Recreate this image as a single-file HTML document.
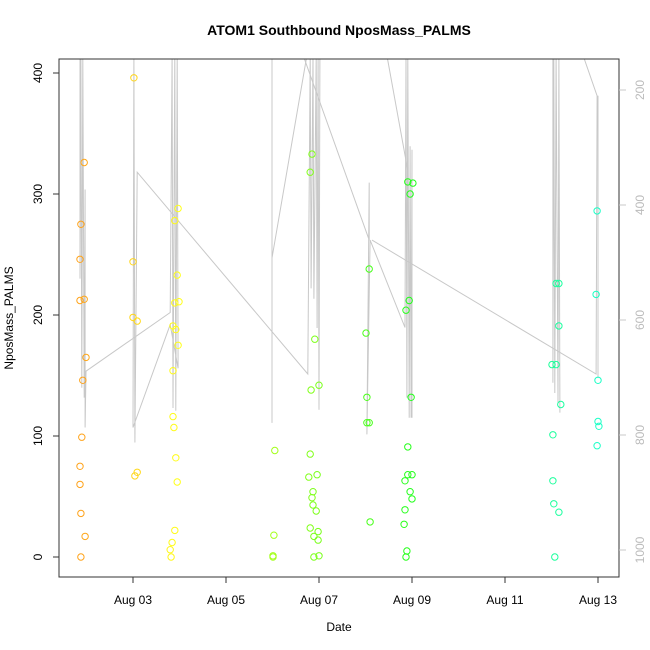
<!DOCTYPE html>
<html><head><meta charset="utf-8"><style>
html,body{margin:0;padding:0;background:#fff}
svg{display:block;font-family:"Liberation Sans",sans-serif}
</style></head><body>
<svg id="chart" width="650" height="650" viewBox="0 0 650 650"></svg>
<script>
// NposMass points: day-of-August and value
const ptDays = [1.95,1.88,1.86,1.86,1.95,1.99,1.92,1.90,1.86,1.86,1.88,1.97,1.88,
 3.02,3.0,3.0,3.09,3.09,3.04,
 3.97,3.90,3.95,3.90,3.99,3.86,3.92,3.97,3.86,3.86,3.88,3.92,3.95,3.90,3.84,3.80,3.82,
 6.05,6.03,6.01,6.01,
 6.85,6.81,6.91,6.83,7.0,6.81,6.78,6.96,6.87,6.85,6.87,6.94,6.81,6.89,6.98,6.98,6.89,7.0,
 8.08,8.01,8.03,8.03,8.08,8.10,
 8.91,9.02,8.96,8.94,8.87,8.98,8.91,8.91,9.0,8.85,8.96,9.0,8.85,8.83,8.89,8.87,
 12.1,12.16,12.16,12.01,12.1,12.2,12.03,12.03,12.05,12.16,12.07,
 12.98,12.96,13.0,13.0,13.02,12.98];
const ptVals = [326,275,246,212,213,165,146,99,75,60,36,17,0,
 396,244,198,195,70,67,
 288,278,233,210,211,191,188,175,154,116,107,82,62,22,12,6,0,
 88,18,1,0,
 333,318,180,138,142,85,66,68,54,49,43,38,24,17,21,14,0,1,
 238,185,132,111,111,29,
 310,309,300,212,204,132,91,68,68,63,54,48,39,27,5,0,
 226,226,191,159,159,126,101,63,44,37,0,
 286,217,146,112,108,92];
// Pressure trace (right axis), several path segments: days and pressures
const presDays = [
 [1.86,1.86,1.88,1.90,1.92,1.95,1.97,1.97,1.99,3.80,3.84,3.86,3.90,3.92,3.95,3.97,3.80,3.0,3.02,3.04,3.09,6.76,6.81,6.83,6.87,6.89,6.94,6.96,6.98,7.0,7.02],
 [5.99,5.99,5.99,6.74],
 [6.66,8.08,8.08,8.03,8.10,8.85,8.87,8.89,8.91,8.94,8.96,8.98,9.0,9.0],
 [8.46,8.91],
 [8.14,12.96,12.98,12.68],
 [12.03,12.03,12.05,12.07,12.10,12.14,12.16,12.18],
 [13.0,13.0]
];
const presVals = [
 [140,528,140,718,140,735,373,787,689,587,140,753,140,758,140,684,608,787,140,813,343,694,140,545,140,563,140,614,140,756,140],
 [140,779,492,140],
 [140,461,361,799,461,613,140,735,140,770,298,770,304,770],
 [140,340],
 [461,694,210,140],
 [140,709,140,727,140,744,140,761],
 [210,701]
];
const yTicks = [0,100,200,300,400];
const pTicks = [200,400,600,800,1000];
const xTickDays = [3,5,7,9,11,13];
const xTickLabels = ["Aug 03","Aug 05","Aug 07","Aug 09","Aug 11","Aug 13"];

const L=59,R=619,T=59,B=577;
const xS = d => 133 + (d-3)*46.5;
const yS = v => 557 - v*1.21;
const pS = p => 90 + (p-200)*0.575;
const NS="http://www.w3.org/2000/svg";
const svg=document.getElementById('chart');
function mk(tag,attrs,parent){const e=document.createElementNS(NS,tag);for(const k in attrs)e.setAttribute(k,attrs[k]);(parent||svg).appendChild(e);return e;}

const defs=mk('defs',{});
const cp=mk('clipPath',{id:'clip'},defs);
mk('rect',{x:L,y:T,width:R-L,height:B-T},cp);

const gPres=mk('g',{'clip-path':'url(#clip)'});


presDays.forEach((ds,i)=>{
  const pts=ds.map((d,j)=>xS(d).toFixed(1)+','+pS(presVals[i][j]).toFixed(1)).join(' ');
  const pl=mk('polyline',{points:pts,fill:'none',stroke:'#c8c8c8','stroke-width':1},gPres);
  
  
});

const gPts=mk('g',{'clip-path':'url(#clip)'});


ptDays.forEach((d,i)=>{
  const h=36+(d-1.9)*11.6;
  const c=mk('circle',{cx:xS(d).toFixed(1),cy:yS(ptVals[i]).toFixed(1),r:3.2,fill:'none',stroke:`hsl(${h.toFixed(0)},100%,55%)`,'stroke-width':1},gPts);
  
  
});

const box=mk('rect',{x:L,y:T,width:R-L,height:B-T,fill:'none',stroke:'#333','stroke-width':1});



yTicks.forEach(v=>{
  const y=yS(v);
  const t=mk('line',{x1:L-6,x2:L,y1:y,y2:y,stroke:'#333'});
  
  
  const tx=mk('text',{x:42,y:y,'font-size':12,'text-anchor':'middle',transform:`rotate(-90 42 ${y})`,fill:'#000'});
  tx.textContent=v;
  
  
});
pTicks.forEach(p=>{
  const y=pS(p);
  const t=mk('line',{x1:R,x2:R+7,y1:y,y2:y,stroke:'#c8c8c8'});
  
  
  const tx=mk('text',{x:644,y:y,'font-size':12,'text-anchor':'middle',transform:`rotate(-90 644 ${y})`,fill:'#bbb'});
  tx.textContent=p;
  
  
});
xTickDays.forEach((d,i)=>{
  const x=xS(d);
  const t=mk('line',{x1:x,x2:x,y1:B,y2:B+6,stroke:'#333'});
  
  
  const tx=mk('text',{x:x,y:604,'font-size':12,'text-anchor':'middle',fill:'#000'});
  tx.textContent=xTickLabels[i];
  
  
});
const xa=mk('line',{x1:xS(3),x2:xS(13),y1:B,y2:B,stroke:'#333'});



const title=mk('text',{x:339,y:35,'font-size':14,'font-weight':'bold','text-anchor':'middle'});
title.textContent='ATOM1 Southbound NposMass_PALMS';


const xl=mk('text',{x:339,y:631,'font-size':12,'text-anchor':'middle'});
xl.textContent='Date';


const yl=mk('text',{x:13,y:318,'font-size':12,'text-anchor':'middle',transform:'rotate(-90 13 318)'});
yl.textContent='NposMass_PALMS';


</script>
</body></html>
